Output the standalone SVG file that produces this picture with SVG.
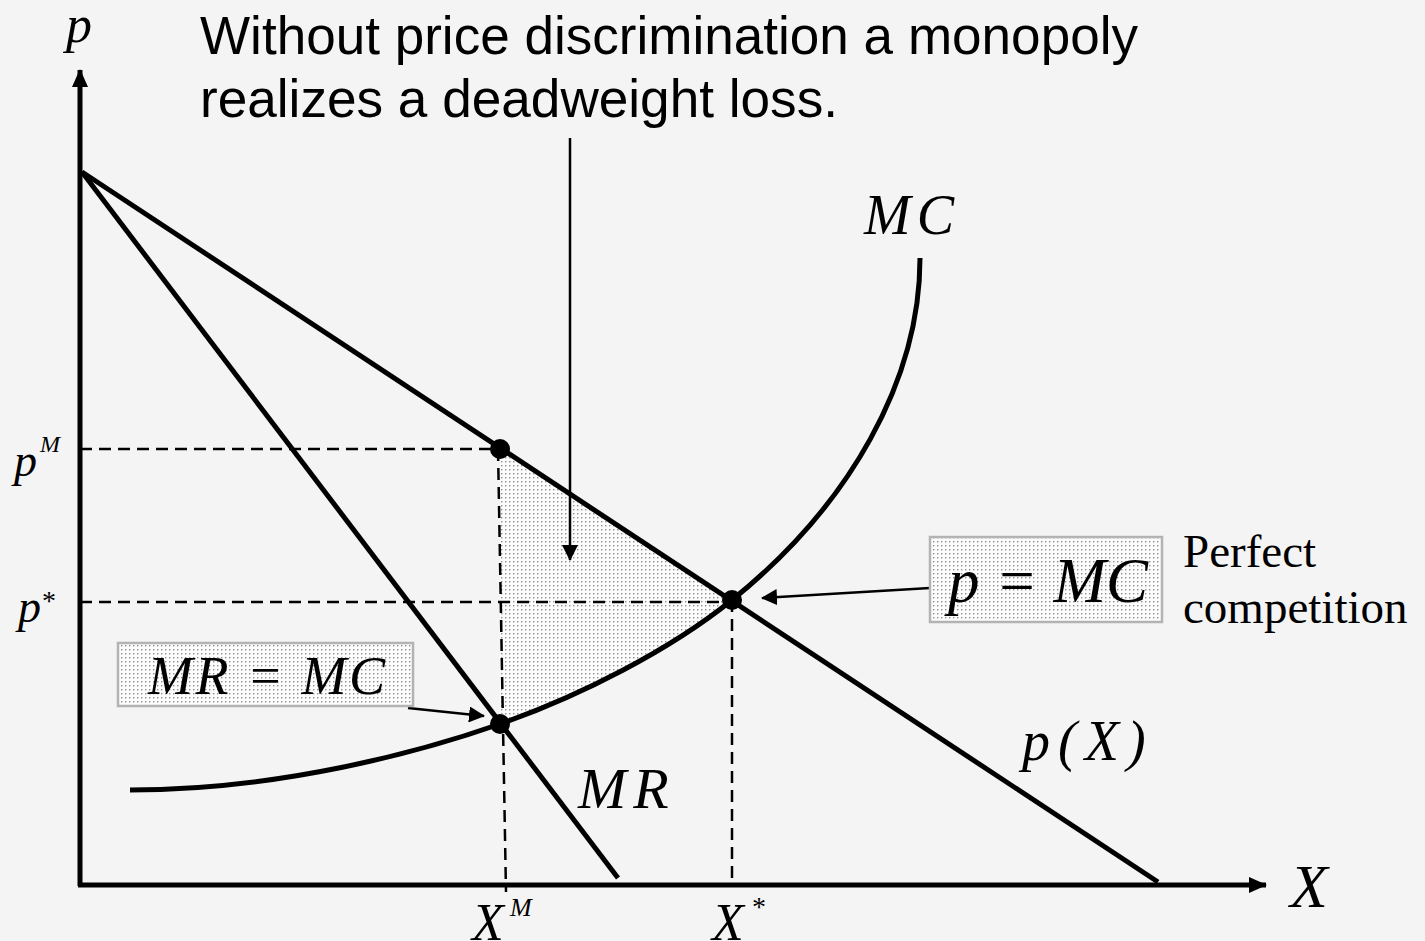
<svg xmlns="http://www.w3.org/2000/svg" width="1425" height="941" viewBox="0 0 1425 941">
<defs>
<pattern id="dots" width="4" height="4" patternUnits="userSpaceOnUse">
<rect width="4" height="4" fill="#fcfcfc"/>
<rect x="1" y="1" width="1.4" height="1.4" fill="#8e8e8e"/>
</pattern>
<marker id="ah" markerWidth="16" markerHeight="16" viewBox="0 0 16 16" refX="15" refY="8" orient="auto" markerUnits="userSpaceOnUse">
<path d="M0,0 L16,8 L0,16 Z" fill="#000"/>
</marker>
<marker id="axh" markerWidth="18" markerHeight="18" viewBox="0 0 18 18" refX="17" refY="9" orient="auto" markerUnits="userSpaceOnUse">
<path d="M0,1 L18,9 L0,17 Z" fill="#000"/>
</marker>
</defs>
<style>
.m{font-family:"Liberation Serif","Times New Roman",serif;font-style:italic;fill:#000}
.r{font-family:"Liberation Serif","Times New Roman",serif;fill:#000}
.s{font-family:"Liberation Sans",Arial,sans-serif;fill:#000}
.curve{fill:none;stroke:#000;stroke-width:5}
.dash{fill:none;stroke:#000;stroke-width:2.5;stroke-dasharray:12,7}
.thin{fill:none;stroke:#000;stroke-width:2.5}
.box{fill:url(#dots);stroke:#b3b3b3;stroke-width:2.5}
</style>
<rect width="1425" height="941" fill="#f4f4f4"/>

<g id="dwl">
<path d="M500,449 L500,724 C580,696 670,650 732,600 Z" fill="url(#dots)"/>
</g>

<g id="connectors">
<line class="dash" x1="80" y1="449" x2="500" y2="449"/>
<line class="dash" x1="80" y1="602" x2="732" y2="602"/>
<line class="dash" x1="498" y1="449" x2="506" y2="892"/>
<line class="dash" x1="732" y1="600" x2="732" y2="885"/>
<line class="thin" x1="570" y1="138" x2="570" y2="560" marker-end="url(#ah)"/>
<line class="thin" x1="408" y1="708" x2="484" y2="716" marker-end="url(#ah)"/>
<line class="thin" x1="930" y1="588" x2="762" y2="598" marker-end="url(#ah)"/>
</g>

<g id="axes">
<line x1="80" y1="886" x2="80" y2="70" stroke="#000" stroke-width="5" marker-end="url(#axh)"/>
<line x1="78" y1="885" x2="1266" y2="885" stroke="#000" stroke-width="5" marker-end="url(#axh)"/>
</g>

<g id="demand">
<line class="curve" x1="82" y1="172" x2="1158" y2="882"/>
</g>
<g id="mr">
<line class="curve" x1="82" y1="172" x2="618" y2="878"/>
</g>
<g id="mc">
<path class="curve" d="M130,790 C280,790 420,752 500,724 C580,696 670,650 732,600 C850,505 920,380 920,258"/>
</g>

<g id="points">
<circle cx="500" cy="449" r="10"/>
<circle cx="732" cy="600" r="10"/>
<circle cx="500" cy="724" r="10"/>
</g>

<g id="title">
<text class="s" x="200" y="54" font-size="53" textLength="938" lengthAdjust="spacingAndGlyphs">Without price discrimination a monopoly</text>
<text class="s" x="200" y="117" font-size="53" textLength="638" lengthAdjust="spacingAndGlyphs">realizes a deadweight loss.</text>
</g>

<g id="axis-labels">
<text class="m" x="66" y="42" font-size="52">p</text>
<text class="m" x="1290" y="907" font-size="62">X</text>
<text class="m" x="14" y="476" font-size="46">p</text>
<text class="m" x="40" y="452" font-size="24">M</text>
<text class="m" x="18" y="622" font-size="46">p</text>
<text class="r" x="42" y="610" font-size="28">*</text>
<text class="m" x="472" y="940" font-size="52">X</text>
<text class="m" x="510" y="916" font-size="26">M</text>
<text class="m" x="712" y="940" font-size="52">X</text>
<text class="r" x="752" y="916" font-size="28">*</text>
</g>

<g id="curve-labels">
<text class="m" x="864" y="234" font-size="56" letter-spacing="6">MC</text>
<text class="m" x="578" y="808" font-size="58" letter-spacing="7">MR</text>
<text class="m" x="1022" y="760" font-size="56" letter-spacing="8">p<tspan class="r">(</tspan>X<tspan class="r">)</tspan></text>
</g>

<g id="mr-mc-box">
<rect class="box" x="118" y="643" width="295" height="63"/>
<text class="m" x="148" y="694" font-size="54" textLength="237" lengthAdjust="spacing">MR <tspan class="r">=</tspan> MC</text>
</g>

<g id="p-mc-box">
<rect class="box" x="930" y="537" width="232" height="85"/>
<text class="m" x="948" y="602" font-size="64" textLength="200" lengthAdjust="spacingAndGlyphs">p <tspan class="r">=</tspan> MC</text>
</g>

<g id="perfect-competition">
<text class="r" x="1183" y="567" font-size="47">Perfect</text>
<text class="r" x="1183" y="623" font-size="47">competition</text>
</g>
</svg>
